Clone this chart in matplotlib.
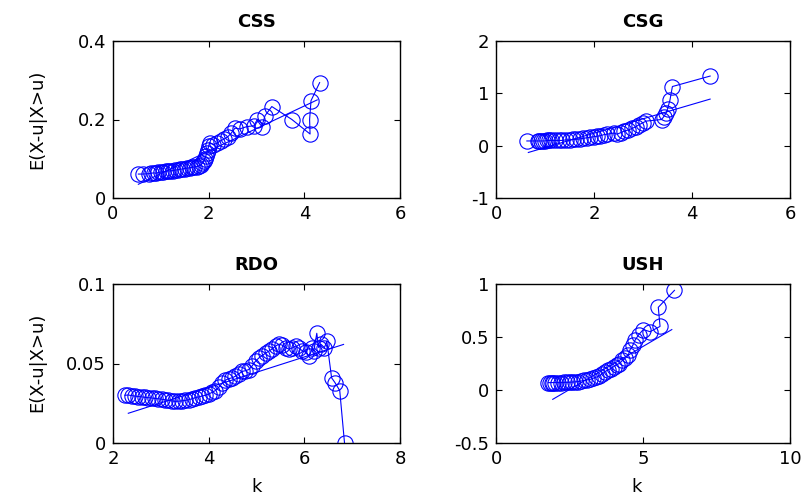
import matplotlib
matplotlib.use("Agg")
import matplotlib.pyplot as plt

plt.rcParams['font.family'] = ['DejaVu Sans']

# CSS
css_k = [0.53, 0.62, 0.75, 0.8, 0.85, 0.9, 0.95, 1.0, 1.05, 1.1,
         1.15, 1.2, 1.25, 1.3, 1.35, 1.4, 1.45, 1.5, 1.55, 1.6,
         1.65, 1.7, 1.75, 1.8, 1.84, 1.87, 1.9, 1.92, 1.94, 1.96,
         1.98, 2.0, 2.02, 2.1, 2.18, 2.25, 2.32, 2.4, 2.47, 2.55,
         2.65, 2.8, 2.95, 3.01, 3.11, 3.18, 3.32, 3.74, 4.12, 4.11,
         4.14, 4.32]
css_e = [0.061, 0.061, 0.062, 0.063, 0.064, 0.063, 0.065, 0.066, 0.067, 0.068,
         0.069, 0.069, 0.070, 0.071, 0.072, 0.073, 0.074, 0.075, 0.076, 0.077,
         0.078, 0.079, 0.080, 0.082, 0.085, 0.089, 0.094, 0.100, 0.107, 0.115,
         0.123, 0.132, 0.141, 0.136, 0.140, 0.146, 0.150, 0.156, 0.165, 0.178,
         0.176, 0.182, 0.184, 0.199, 0.182, 0.210, 0.233, 0.200, 0.163, 0.200,
         0.248, 0.294]
css_fit_k = [0.53, 4.27]
css_fit_e = [0.035, 0.25]

# CSG
csg_k = [0.63, 0.85, 0.88, 0.92, 0.96, 1.0, 1.04, 1.08, 1.12, 1.2,
         1.28, 1.35, 1.42, 1.5, 1.57, 1.64, 1.71, 1.78, 1.85, 1.92,
         1.99, 2.06, 2.13, 2.2, 2.27, 2.4, 2.47, 2.55, 2.62, 2.7,
         2.78, 2.85, 2.92, 3.0, 3.07, 3.38, 3.42, 3.47, 3.5, 3.55,
         3.6, 4.37]
csg_e = [0.09, 0.09, 0.09, 0.09, 0.09, 0.09, 0.10, 0.10, 0.10, 0.10,
         0.10, 0.10, 0.11, 0.11, 0.12, 0.12, 0.13, 0.14, 0.15, 0.16,
         0.17, 0.18, 0.19, 0.21, 0.22, 0.24, 0.22, 0.25, 0.28, 0.30,
         0.33, 0.36, 0.40, 0.44, 0.47, 0.50, 0.55, 0.62, 0.70, 0.87,
         1.13, 1.33]
csg_fit_k = [0.66, 4.37]
csg_fit_e = [-0.13, 0.89]

# RDO
rdo_k = [2.25, 2.32, 2.39, 2.46, 2.53, 2.6, 2.67, 2.74, 2.81, 2.88,
         2.95, 3.02, 3.09, 3.16, 3.23, 3.3, 3.37, 3.44, 3.51, 3.58,
         3.65, 3.72, 3.79, 3.86, 3.93, 4.0, 4.07, 4.14, 4.21, 4.28,
         4.35, 4.42, 4.49, 4.56, 4.63, 4.7, 4.77, 4.84, 4.91, 4.98,
         5.05, 5.12, 5.19, 5.26, 5.33, 5.4, 5.47, 5.54, 5.61, 5.68,
         5.75, 5.82, 5.89, 5.96, 6.03, 6.1, 6.17, 6.2, 6.26, 6.3,
         6.35, 6.42, 6.47, 6.57, 6.64, 6.74, 6.84]
rdo_e = [0.0300, 0.0302, 0.0298, 0.0295, 0.0292, 0.0290, 0.0287, 0.0285, 0.0283, 0.0280,
         0.0278, 0.0275, 0.0272, 0.0268, 0.0265, 0.0262, 0.0263, 0.0265, 0.0268, 0.0272,
         0.0278, 0.0285, 0.0290, 0.0295, 0.0300, 0.0308, 0.0318, 0.0330, 0.0350, 0.0375,
         0.0395, 0.0405, 0.0410, 0.0420, 0.0435, 0.0450, 0.0455, 0.0462, 0.0485, 0.0515,
         0.0535, 0.0550, 0.0565, 0.0578, 0.0592, 0.0610, 0.0622, 0.0615, 0.0600, 0.0590,
         0.0598, 0.0610, 0.0595, 0.0580, 0.0570, 0.0545, 0.0595, 0.0580, 0.0690, 0.0600,
         0.0620, 0.0600, 0.0640, 0.0410, 0.0380, 0.0330, 0.0]
rdo_fit_k = [2.32, 6.82]
rdo_fit_e = [0.0187, 0.062]

# USH
ush_k = [1.78, 1.85, 1.9, 1.95, 2.0, 2.1, 2.2, 2.3, 2.4, 2.5,
         2.6, 2.7, 2.8, 2.9, 3.0, 3.1, 3.2, 3.3, 3.4, 3.5,
         3.6, 3.7, 3.8, 3.9, 4.0, 4.1, 4.2, 4.3, 4.4, 4.5,
         4.56, 4.65, 4.73, 4.85, 5.01, 5.24, 5.58, 5.52, 6.07]
ush_e = [0.069, 0.07, 0.07, 0.07, 0.07, 0.07, 0.07, 0.072, 0.072, 0.073,
         0.075, 0.077, 0.08, 0.085, 0.09, 0.095, 0.10, 0.11, 0.12, 0.13,
         0.15, 0.17, 0.19, 0.20, 0.22, 0.24, 0.25, 0.28, 0.30, 0.33,
         0.38, 0.42, 0.47, 0.52, 0.57, 0.55, 0.60, 0.78, 0.94]
ush_fit_k = [1.93, 5.98]
ush_fit_e = [-0.088, 0.57]

W, H = 802, 500
fig = plt.figure(figsize=(W / 100, H / 100), dpi=100)

panels = [
    ("CSS", css_k, css_e, css_fit_k, css_fit_e, (113, 41, 287, 157),
     (0, 6), [0, 2, 4, 6], ["0", "2", "4", "6"],
     (0, 0.4), [0, 0.2, 0.4], ["0", "0.2", "0.4"]),
    ("CSG", csg_k, csg_e, csg_fit_k, csg_fit_e, (496, 41, 294, 157),
     (0, 6), [0, 2, 4, 6], ["0", "2", "4", "6"],
     (-1, 2), [-1, 0, 1, 2], ["-1", "0", "1", "2"]),
    ("RDO", rdo_k, rdo_e, rdo_fit_k, rdo_fit_e, (113, 284, 287, 159),
     (2, 8), [2, 4, 6, 8], ["2", "4", "6", "8"],
     (0, 0.1), [0, 0.05, 0.1], ["0", "0.05", "0.1"]),
    ("USH", ush_k, ush_e, ush_fit_k, ush_fit_e, (496, 284, 294, 159),
     (0, 10), [0, 5, 10], ["0", "5", "10"],
     (-0.5, 1), [-0.5, 0, 0.5, 1], ["-0.5", "0", "0.5", "1"]),
]

for (name, k, e, fk, fe, (px, py, pw, ph), xl, xt, xtl, yl, yt, ytl) in panels:
    ax = fig.add_axes([px / W, 1 - (py + ph) / H, pw / W, ph / H])
    ax.plot(k, e, '-o', color='blue', lw=0.8, ms=11, mfc='none', mew=0.8)
    ax.plot(fk, fe, '-', color='blue', lw=0.8)
    ax.set_xlim(*xl)
    ax.set_ylim(*yl)
    ax.set_xticks(xt)
    ax.set_xticklabels(xtl)
    ax.set_yticks(yt)
    ax.set_yticklabels(ytl)
    ax.tick_params(direction='in', length=4, width=0.8, labelsize=13,
                   top=True, right=True, pad=5)
    for s in ax.spines.values():
        s.set_linewidth(1.0)
    ax.set_title(name, fontsize=13, fontweight='bold', pad=10)

fig.text(37.5 / W, 1 - 119.5 / H, "E(X-u|X>u)", rotation=90,
         ha='center', va='center', fontsize=13)
fig.text(37.5 / W, 1 - 362 / H, "E(X-u|X>u)", rotation=90,
         ha='center', va='center', fontsize=13)
fig.text(256.5 / W, 1 - 487 / H, "k", ha='center', va='center', fontsize=13)
fig.text(637 / W, 1 - 487 / H, "k", ha='center', va='center', fontsize=13)

fig.savefig("out.png", dpi=100)
